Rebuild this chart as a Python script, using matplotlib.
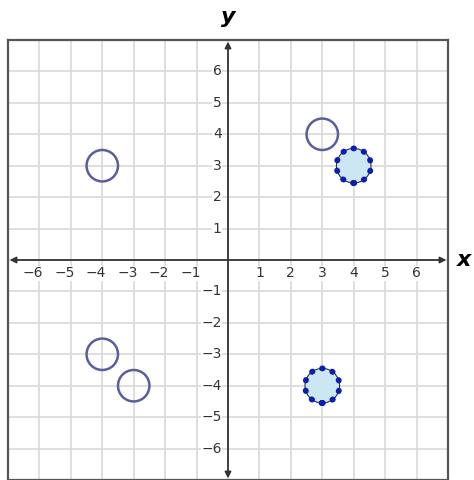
import matplotlib.pyplot as plt
from matplotlib.patches import Circle

# points on the grid
open_x = [-4, -4, -3, 3]
open_y = [3, -3, -4, 4]
filled_x = [4, 3]
filled_y = [3, -4]

ticks = [-6, -5, -4, -3, -2, -1, 1, 2, 3, 4, 5, 6]

fig = plt.figure(figsize=(4.74, 4.80), dpi=100)
ax = fig.add_axes([8 / 474, 0, 440 / 474, 440 / 480])
ax.set_xlim(-7, 7)
ax.set_ylim(-7, 7)

# grid
for g in range(-6, 7):
    ax.axvline(g, color='#dcdcdc', lw=1.3, zorder=0)
    ax.axhline(g, color='#dcdcdc', lw=1.3, zorder=0)

ax.set_xticks([])
ax.set_yticks([])
for s in ax.spines.values():
    s.set_color('#555555')
    s.set_linewidth(1.6)

# axes with arrows
arrow = dict(arrowstyle='<|-|>', color='#333333', lw=1.3, mutation_scale=9,
             shrinkA=0, shrinkB=0)
ax.annotate('', xy=(6.95, 0), xytext=(-6.95, 0), arrowprops=arrow, zorder=2)
ax.annotate('', xy=(0, 6.95), xytext=(0, -6.95), arrowprops=arrow, zorder=2)

# tick labels
lbl = dict(fontsize=10, color='#333333', va='center', zorder=3,
           bbox=dict(facecolor='white', edgecolor='none', pad=0.5))
for t in ticks:
    if t < 0:
        ax.text(t + 0.13, -0.42, '\u2212%d' % -t, ha='right', **lbl)
        ax.text(-0.2, t, '\u2212%d' % -t, ha='right', **lbl)
    else:
        ax.text(t, -0.42, '%d' % t, ha='center', **lbl)
        ax.text(-0.2, t, '%d' % t, ha='right', **lbl)

ax.text(0, 7.72, 'y', fontsize=16, fontweight='bold', fontstyle='italic',
        ha='center', va='center', clip_on=False)
ax.text(7.5, 0, 'x', fontsize=16, fontweight='bold', fontstyle='italic',
        ha='center', va='center', clip_on=False)

# open circles
for x, y in zip(open_x, open_y):
    ax.add_patch(Circle((x, y), 0.5, facecolor='none', edgecolor='#5a5f9c',
                        lw=1.8, zorder=4))

# filled dotted circles
for x, y in zip(filled_x, filled_y):
    ax.add_patch(Circle((x, y), 0.55, facecolor='#cde6f4', edgecolor='#333333',
                        lw=0.8, zorder=4))
    ax.add_patch(Circle((x, y), 0.55, facecolor='none', edgecolor='#0a1fb0',
                        lw=4.2, linestyle=(0, (0.1, 1.75)), capstyle='round',
                        zorder=5))

fig.savefig('out.png', dpi=100)
